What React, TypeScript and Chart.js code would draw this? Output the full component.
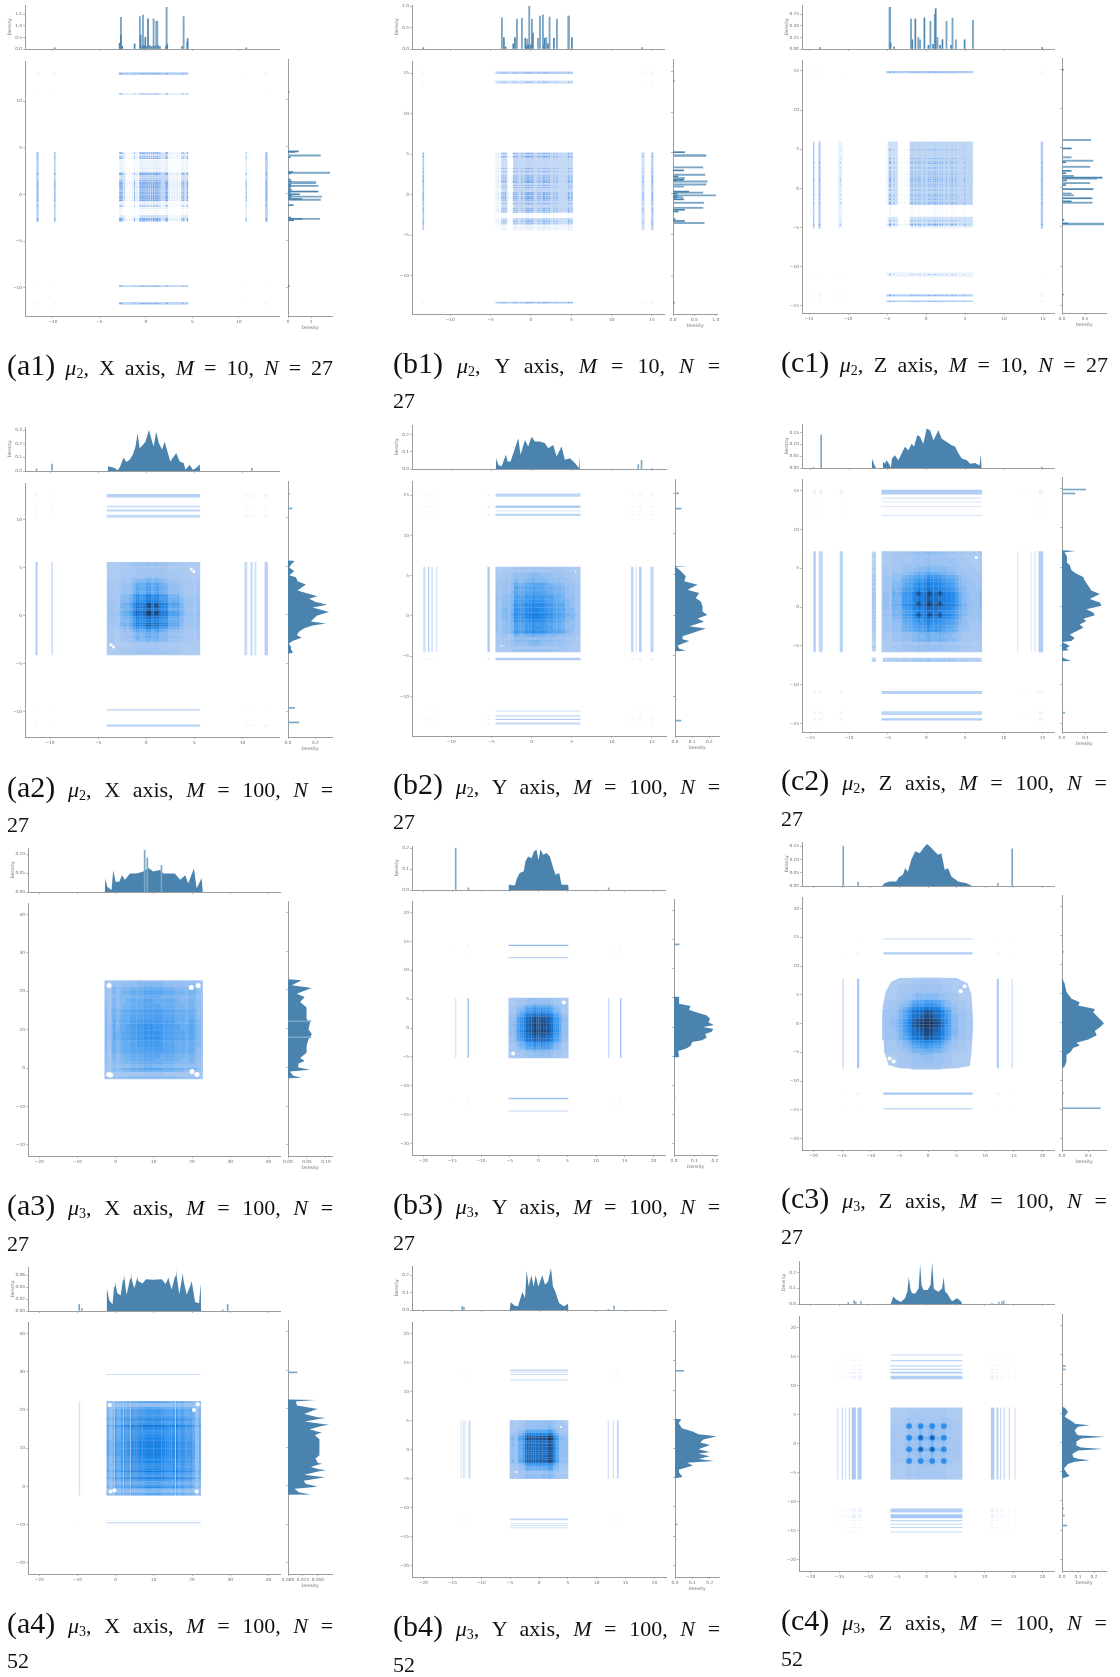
import React, { useEffect, useRef } from "react";
import { Chart, registerables } from "chart.js";
Chart.register(...registerables);

// ---------- marginal densities: [position, density] ----------
const a1Pale = [[-2.69,1.37],[-0.65,1.4],[-0.32,1.46],[0.82,1.3],[1.11,1.2],[1.22,1.2],[2.22,1.8],[4.05,1.4]];
const a1Spikes = [[-2.83,0.25],[-2.69,0.6],[-2.55,0.12],[-1.22,0.22],[-0.57,0.6],[-0.07,0.5],[0.22,1.3],[-0.4,0.12],[-0.2,0.15],[0.1,0.1],[0.4,0.15],[0.6,0.1],[0.8,0.13],[1,0.12],[1.3,0.15],[1.5,0.1],[2.29,0.2],[2.15,0.1],[3.87,0.1],[4.48,0.45],[4.44,0.3],[-9.82,0.05],[10.79,0.05]];
const b1Pale = [[-3.6,0.73],[-1.74,0.7],[-1.12,0.72],[-0.45,0.23],[-0.21,1],[0.12,0.7],[0.87,0.25],[1.12,0.77],[1.49,0.8],[1.9,0.27],[2.31,0.75],[3.22,0.7],[4.63,0.77],[4.71,0.77]];
const b1Spikes = [[-3.35,0.27],[-3.14,0.05],[-2.19,0.12],[-1.98,0.27],[-0.7,0.25],[-0.5,0.08],[-0.3,0.1],[0,0.1],[0.25,0.37],[1.6,0.08],[1.69,0.25],[2.1,0.12],[2.85,0.25],[5.08,0.27],[-13.35,0.03],[13.8,0.03]];
const c1Pale = [[-4.68,0.9],[-4.6,0.9],[-1.93,0.65],[-0.99,0.25],[-0.77,0.2],[0.56,0.6],[1.12,0.75],[1.46,0.25],[2.62,0.6],[3.39,0.67],[3.82,0.2],[6.01,0.62]];
const c1Spikes = [[-4.55,0.13],[-4.1,0.04],[-1.76,0.2],[-1.37,0.65],[-0.21,0.67],[0.3,0.08],[1.24,0.87],[0.9,0.1],[1.8,0.08],[2.1,0.2],[3.2,0.08],[4.94,0.2],[-13.56,0.03],[14.89,0.03]];

const a2Profile = [[-3.99,0],[-3.95,0.034],[-3.64,0.029],[-3.29,0.022],[-2.95,0.005],[-2.7,0.034],[-2.36,0.099],[-2.08,0.065],[-1.73,0.082],[-1.39,0.119],[-1.11,0.179],[-0.9,0.276],[-0.69,0.167],[-0.35,0.191],[-0.07,0.215],[0.28,0.3],[0.52,0.24],[0.76,0.179],[1.04,0.288],[1.32,0.203],[1.66,0.155],[1.91,0.215],[2.25,0.131],[2.5,0.07],[3.12,0.131],[3.47,0.07],[3.88,0.058],[4.09,0.01],[4.51,0.046],[4.85,0.01],[5.2,0.022],[5.55,0.05],[5.6,0]];
const a2Spikes = [[-11.4,0.015],[-9.8,0.05],[10.97,0.02]];
const a2Right = [[-11.1,0.08],[-9.6,0.05],[10.97,0.03],[12.5,0.01]];
const b2Profile = [[-4.45,0],[-4.4,0.063],[-4.15,0.025],[-3.74,0.015],[-3.2,0.083],[-2.99,0.044],[-2.62,0.044],[-2.2,0.102],[-1.66,0.179],[-1.37,0.083],[-0.83,0.169],[-0.42,0.131],[0,0.188],[0.42,0.16],[1.04,0.16],[1.66,0.15],[2.08,0.121],[2.7,0.14],[3.12,0.073],[3.74,0.131],[4.15,0.054],[4.78,0.063],[5.4,0.035],[5.9,0.006],[5.98,0.073],[6.02,0]];
const b2Spikes = [[13.3,0.025],[13.7,0.05],[15,0.004]];
const b2Right = [[-13,0.035],[13.1,0.035],[15,0.02]];
const c2Profile = [[-7.05,0],[-7,0.04],[-6.79,0.018],[-6.53,0],[-5.71,0],[-5.62,0.028],[-5.36,0.018],[-5.14,0.033],[-4.84,0.018],[-4.58,0],[-4.45,0.04],[-4.06,0.054],[-3.63,0.033],[-3.2,0.061],[-2.77,0.09],[-2.33,0.075],[-1.9,0.103],[-1.6,0.09],[-1.17,0.139],[-0.82,0.132],[-0.39,0.103],[0.04,0.167],[0.48,0.16],[0.91,0.117],[1.56,0.16],[1.99,0.124],[2.64,0.11],[3.29,0.096],[3.72,0.09],[4.15,0.061],[4.58,0.04],[5.23,0.033],[5.66,0.018],[6.31,0.021],[6.87,0.011],[7.05,0.057],[7.13,0]];
const c2Spikes = [[-13.6,0.14],[-14.6,0.003],[14.9,0.004]];
const c2Right = [[14.9,0.1],[14.4,0.055],[-13.6,0.012],[-10.9,0.003]];
const a3Profile = [[-2.8,0],[-2.71,0.036],[-2.18,0.014],[-1.05,0.005],[-0.61,0.058],[0,0.027],[0.96,0.027],[1.66,0.044],[2.45,0.032],[3.76,0.049],[5.5,0.049],[7.25,0.054],[8.56,0.063],[9.87,0.054],[11.6,0.058],[12.5,0.049],[14.2,0.049],[15.5,0.049],[16.9,0.032],[18.2,0.044],[19,0.023],[20.5,0.062],[21.2,0.01],[22.5,0.036],[22.8,0]];
const a3Spikes = [[7.6,0.11],[8.3,0.09],[12,0.07]];
const a3Right = [[11.9,0.06],[7.8,0.06]];
const b3Profile = [[-5.23,0],[-5.17,0.025],[-4.13,0.021],[-3.72,0.057],[-3.26,0.081],[-2.56,0.089],[-2.27,0.137],[-1.8,0.16],[-1.22,0.152],[-0.81,0.184],[-0.35,0.192],[0,0.143],[0.35,0.195],[0.81,0.168],[1.4,0.176],[1.98,0.16],[2.56,0.105],[2.97,0.073],[3.6,0.081],[4.01,0.025],[5.17,0.025],[5.23,0]];
const b3Spikes = [[-14.4,0.2],[-12.2,0.01],[12.2,0.01]];
const b3Right = [[14.2,0.025],[-12.2,0.005],[12.2,0.002]];
const c3Profile = [[-8,0],[-7.6,0.01],[-6.73,0.017],[-5.56,0.017],[-5.09,0.033],[-4.39,0.042],[-3.98,0.067],[-3.51,0.054],[-2.92,0.099],[-2.22,0.131],[-1.46,0.124],[-0.76,0.144],[-0.18,0.158],[0.29,0.15],[0.88,0.137],[1.75,0.118],[2.34,0.124],[2.92,0.061],[3.51,0.067],[4.09,0.036],[5.26,0.017],[6.73,0.01],[7.72,0]];
const c3Spikes = [[-14.8,0.15],[-12.2,0.015],[12.2,0.01],[14.7,0.14]];
const c3Right = [[-14.8,0.145],[12.2,0.005],[-12.2,0.005]];
const a4Profile = [[-2.36,0],[-2.27,0.038],[-1.66,0.018],[-0.79,0.011],[-0.4,0.04],[-0.17,0.049],[0.05,0.042],[0.44,0.03],[1.31,0.026],[1.95,0.052],[2.18,0.062],[2.4,0.05],[2.88,0.027],[3.8,0.054],[4.02,0.064],[4.25,0.052],[4.89,0.038],[5.45,0.05],[5.68,0.057],[5.9,0.05],[7.07,0.046],[7.95,0.053],[9.87,0.052],[12.05,0.053],[13.1,0.045],[13.6,0.052],[13.8,0.057],[14,0.05],[14.67,0.036],[15.55,0.058],[15.8,0.069],[16.05,0.055],[16.68,0.028],[17.35,0.054],[17.55,0.063],[17.8,0.05],[18.6,0.027],[19.7,0.045],[19.91,0.05],[20.1,0.042],[20.8,0.015],[21.83,0.013],[22.27,0.046],[22.36,0]];
const a4Spikes = [[-9.5,0.011],[-8.8,0.004],[28,0.002],[29.3,0.011]];
const a4Right = [[29.4,0.015]];
const b4Profile = [[-5.08,0],[-4.9,0.044],[-4.21,0.025],[-3.64,0.021],[-2.89,0.103],[-2.42,0.069],[-2.14,0.225],[-1.79,0.135],[-1.33,0.2],[-0.92,0.135],[-0.58,0.2],[-0.12,0.135],[0.58,0.2],[1.04,0.145],[1.56,0.164],[2.08,0.24],[2.42,0.135],[2.89,0.101],[3.46,0.04],[4.33,0.021],[5.02,0.036],[5.08,0]];
const b4Spikes = [[-13.3,0.02],[-13,0.015],[12,0.004],[13,0.022]];
const b4Right = [[13.3,0.05],[-13,0.012]];
const c4Profile = [[-6.18,0],[-5.72,0.048],[-5.26,0.031],[-4.45,0.012],[-3.7,0.037],[-3.3,0.08],[-3.06,0.173],[-2.8,0.1],[-2.54,0.07],[-1.97,0.065],[-1.35,0.1],[-1.1,0.256],[-0.85,0.12],[-0.52,0.09],[0.17,0.09],[0.7,0.12],[0.98,0.267],[1.25,0.1],[1.5,0.09],[2.08,0.079],[2.7,0.1],[2.95,0.173],[3.2,0.08],[3.53,0.069],[4.39,0.017],[5.26,0.037],[5.95,0.017],[6.13,0]];
const c4Spikes = [[-13.5,0.01],[-12.5,0.02],[-12.2,0.012],[-11.3,0.015],[11.3,0.004],[12.5,0.01],[13,0.012],[13.3,0.02]];
const c4Right = [[13.1,0.02],[12.5,0.02],[-11.3,0.01],[-12.5,0.015],[-14.2,0.03],[15,0.005]];

// ---------- joint density: [low, high, strength] ----------
const a1Cells = [[-2.85,-2.2,0.6],[-1.5,-0.8,0.25],[-0.7,2.4,0.85],[2.4,3.7,0.2],[3.8,4.5,0.6]];
const b1Cells = [[-4.4,-3.8,0.2],[-3.7,-2.9,0.7],[-2.2,5.2,0.85]];
const c1Cells = [[-5.1,-4.9,0.15],[-4.85,-3.6,0.65],[-2.1,6,0.88]];
const a1Strips = [[-11.8,-11.5,0.4],[-9.9,-9.7,0.4],[10.7,10.85,0.2],[12.8,13.1,0.45]];
const b1Strips = [[-13.45,-13.25,0.5],[13.7,14.1,0.3],[14.9,15.2,0.45]];
const c1Strips = [[-14.5,-14.3,0.45],[-13.8,-13.5,0.45],[-11.3,-10.7,0.12],[14.7,15,0.5]];

const a2Strips = [[-11.5,-11.3,0.5],[-9.85,-9.7,0.35],[10.2,10.5,0.35],[10.85,11.05,0.4],[11.25,11.45,0.3],[12.3,12.65,0.45]];
const a2Holes = [[4.68,4.86],[4.95,4.6],[-3.4,-3.25],[-3.65,-3]];
const a2DarkSpots = [0.28,1.04];
const b2Strips = [[-13.5,-13.2,0.3],[-12.9,-12.75,0.5],[-12.5,-12.3,0.3],[-11.9,-11.75,0.25],[-5.5,-5.2,0.5],[12.4,12.7,0.4],[13,13.1,0.35],[13.4,13.7,0.5],[14.8,15.2,0.4]];
const b2Holes = [[5.5,5.5],[-3.7,-3.7]];
const c2Strips = [[-14.6,-14.3,0.5],[-13.9,-13.4,0.4],[-11.2,-10.8,0.45],[11.7,11.9,0.2],[12.9,13,0.3],[13.5,13.6,0.3],[14,14.1,0.4],[14.5,15.1,0.5]];
const c2DarkSpots = [-1,0.45,1.75];
const c2Holes = [[6.44,6.4]];
const a3Holes = [[-1.8,-1.7],[21.6,21.5],[21.3,-1.7],[-1.7,21.5],[-1.3,-1.8],[20,-0.9],[19.8,21]];
const b3Strips = [[-14.45,-14.3,0.4],[-12.35,-12.1,0.6],[12.1,12.3,0.4],[14.2,14.4,0.7]];
const b3Holes = [[4.4,4.4],[-4.4,-4.4]];
const c3Outline = [[-6.5,7.2],[-5,7.9],[0,8],[5,7.9],[6.9,7],[7.6,5],[7.9,0],[7.6,-5],[7.3,-7.4],[5,-7.8],[0,-8],[-5,-7.8],[-6.9,-7.2],[-7.6,-5],[-8,0],[-7.9,3],[-7.4,5.5],[-6.5,7.2]];
const c3Strips = [[-14.95,-14.7,0.35],[-12.4,-12,0.55],[12,12.4,0.5],[14.6,14.8,0.35]];
const c3Holes = [[6.4,6.5],[-6.7,-6.1],[5.7,5.6],[-6,-6.6]];
const a4Strips = [[-9.6,-9.45,0.6],[-8.85,-8.75,0.2],[29.25,29.4,0.6]];
const a4Holes = [[-1.5,21.3],[21.5,21.5],[21.2,-1.3],[-1.3,-1.3],[20.5,20],[-0.3,-1]];
const b4Strips = [[-13.6,-13.4,0.25],[-13.2,-13.05,0.35],[-12.9,-12.75,0.35],[-12.2,-11.9,0.4],[11.9,12.1,0.35],[12.85,13,0.4],[13.2,13.3,0.4],[13.5,13.8,0.4]];
const b4Holes = [[3.8,3.9],[-3.9,-3.9]];
const c4Strips = [[-15.4,-15.2,0.3],[-14.6,-14.4,0.4],[-14,-13.85,0.4],[-13.4,-13.2,0.4],[-12.9,-12.2,0.55],[-11.9,-11.2,0.5],[11.1,11.7,0.5],[12.1,12.4,0.5],[12.7,12.9,0.4],[13.3,13.5,0.4],[14.2,14.4,0.4],[15.2,15.4,0.3]];
const c4BlueSpots = [-3,-1,1,3];
const c4DarkSpots = [-1,1];

// ---------- tick labels ----------
const ticks10 = [-10,-5,0,5,10];
const ticks15 = [-10,-5,0,5,10,15];
const ticksSym15 = [-15,-10,-5,0,5,10,15];
const ticks20 = [-20,-15,-10,-5,0,5,10,15,20];
const ticks40 = [-20,-10,0,10,20,30,40];

// ---------- layout of every panel (pixels) ----------
const panels: any[] = [
  { label:"a1", mu:"2", axis:"X", M:"10", N:"27", wrap:false, cap:[7,326,375,0], main:[25,279,59,316], top:[5,49], right:[288,332], lim:[-13,14.3], ticks:ticks10, dMax:1.9, topTicks:[0,0.5,1,1.5], topDec:1, rightTicks:[0,1], rightDec:0, pale:a1Pale, spikes:a1Spikes, cells:a1Cells, strips:a1Strips, sq:[-2.9,4.5] },
  { label:"b1", mu:"2", axis:"Y", M:"10", N:"27", wrap:true, cap:[393,327,373,408], main:[412,664,59,314], top:[5,49], right:[673,717], lim:[-14.75,16.5], ticks:ticks15, dMax:1.03, topTicks:[0,0.5,1], topDec:1, rightTicks:[0,0.5,1], rightDec:1, pale:b1Pale, spikes:b1Spikes, cells:b1Cells, strips:b1Strips, sq:[-4.4,5.2] },
  { label:"c1", mu:"2", axis:"Z", M:"10", N:"27", wrap:false, cap:[781,327,372,0], main:[802,1054,58,313], top:[5,49], right:[1062,1106], lim:[-15.9,16.4], ticks:ticksSym15, dMax:0.95, topTicks:[0,0.25,0.5,0.75], topDec:2, rightTicks:[0,0.5], rightDec:1, pale:c1Pale, spikes:c1Spikes, cells:c1Cells, strips:c1Strips, sq:[-5.1,6] },
  { label:"a2", mu:"2", axis:"X", M:"100", N:"27", wrap:true, cap:[7,326,797,832], main:[25,279,481,737], top:[427,471], right:[288,332], lim:[-12.6,13.8], ticks:ticks10, dMax:0.322, topTicks:[0,0.1,0.2,0.3], topDec:1, rightTicks:[0,0.2], rightDec:1, profile:a2Profile, peak:0.28, spikes:a2Spikes, rightSpikes:a2Right, sq:[-4.1,5.6], strips:a2Strips, holes:a2Holes, holeR:1.5, darkSpots:a2DarkSpots, dotR:2.4 },
  { label:"b2", mu:"2", axis:"Y", M:"100", N:"27", wrap:true, cap:[393,327,794,829], main:[412,666,479,736], top:[425,469], right:[675,719], lim:[-14.9,16.75], ticks:ticks15, dMax:0.256, topTicks:[0,0.1,0.2], topDec:1, rightTicks:[0,0.1,0.2], rightDec:1, profile:b2Profile, peak:0.23, spikes:b2Spikes, rightSpikes:b2Right, sq:[-4.5,6.1], strips:b2Strips, holes:b2Holes, holeR:0.8 },
  { label:"c2", mu:"2", axis:"Z", M:"100", N:"27", wrap:true, cap:[781,326,790,826], main:[802,1054,477,732], top:[424,468], right:[1062,1106], lim:[-16.08,16.5], ticks:ticksSym15, dMax:0.186, topTicks:[0,0.05,0.1,0.15], topDec:2, rightTicks:[0,0.1], rightDec:1, profile:c2Profile, peak:0.17, spikes:c2Spikes, rightSpikes:c2Right, sq:[-5.8,7.2], strips:c2Strips, holes:c2Holes, holeR:1.5, darkSpots:c2DarkSpots, dotR:2.6 },
  { label:"a3", mu:"3", axis:"X", M:"100", N:"27", wrap:true, cap:[7,326,1215,1251], main:[28,280,901,1156], top:[848,892], right:[288,332], lim:[-22.9,43], ticks:ticks40, dMax:0.116, topTicks:[0,0.05,0.1], topDec:2, rightTicks:[0,0.05,0.1], rightDec:2, profile:a3Profile, peak:0.09, spikes:a3Spikes, rightSpikes:a3Right, sq:[-2.9,22.8], holes:a3Holes, holeR:2.5 },
  { label:"b3", mu:"3", axis:"Y", M:"100", N:"27", wrap:true, cap:[393,327,1214,1250], main:[412,665,899,1155], top:[846,890], right:[674,717], lim:[-22,22], ticks:ticks20, dMax:0.21, topTicks:[0,0.1,0.2], topDec:1, rightTicks:[0,0.1,0.2], rightDec:1, profile:b3Profile, peak:0.19, spikes:b3Spikes, rightSpikes:b3Right, sq:[-5.2,5.2], strips:b3Strips, holes:b3Holes, holeR:2 },
  { label:"c3", mu:"3", axis:"Z", M:"100", N:"27", wrap:true, cap:[781,326,1208,1244], main:[802,1054,895,1150], top:[842,886], right:[1062,1106], lim:[-22,22], ticks:ticks20, dMax:0.166, topTicks:[0,0.05,0.1,0.15], topDec:2, rightTicks:[0,0.1], rightDec:1, profile:c3Profile, peak:0.15, spikes:c3Spikes, rightSpikes:c3Right, sq:[-7.8,7.8], outline:c3Outline, strips:c3Strips, holes:c3Holes, holeR:2 },
  { label:"a4", mu:"3", axis:"X", M:"100", N:"52", wrap:true, cap:[7,326,1633,1668], main:[28,280,1320,1574], top:[1267,1311], right:[288,332], lim:[-22.9,43], ticks:ticks40, dMax:0.0735, topTicks:[0,0.02,0.04,0.06], topDec:2, rightTicks:[0,0.025,0.05], rightDec:3, profile:a4Profile, peak:0.072, spikes:a4Spikes, rightSpikes:a4Right, sq:[-2.4,22.3], strips:a4Strips, holes:a4Holes, holeR:2 },
  { label:"b4", mu:"3", axis:"Y", M:"100", N:"52", wrap:true, cap:[393,327,1636,1672], main:[412,666,1320,1577], top:[1266,1310], right:[675,719], lim:[-22,22], ticks:ticks20, dMax:0.253, topTicks:[0,0.1,0.2], topDec:1, rightTicks:[0,0.1,0.2], rightDec:1, profile:b4Profile, peak:0.2, spikes:b4Spikes, rightSpikes:b4Right, sq:[-5,5], strips:b4Strips, holes:b4Holes, holeR:1 },
  { label:"c4", mu:"3", axis:"Z", M:"100", N:"52", wrap:true, cap:[781,326,1630,1666], main:[799,1054,1314,1571], top:[1261,1304], right:[1062,1106], lim:[-22,22], ticks:ticks20, dMax:0.275, topTicks:[0,0.1,0.2], topDec:1, rightTicks:[0,0.1,0.2], rightDec:1, profile:c4Profile, peak:0.29, spikes:c4Spikes, rightSpikes:c4Right, sq:[-6.2,6.2], strips:c4Strips, blueSpots:c4BlueSpots, darkSpots:c4DarkSpots, dotR:2.2 },
];

const BASE = "rgb(174,203,241)";
const AZURE = (a: number) => `rgba(20,130,235,${a})`;
const DARK = (a: number) => `rgba(22,48,86,${a})`;
const STRIP = (a: number) => `rgba(95,155,235,${a})`;
const HIST = "#4a83ad";
const PALE = "#7ba6c6";
const AXIS = "#9c9c9c";
const TEXT = "#6e6e6e";
const FAMILY = "DejaVu Sans";
const RAMP = [[0,174,203,241],[0.12,150,192,242],[0.3,85,165,240],[0.5,30,135,235],[0.7,28,110,195],[0.85,28,80,140],[1,30,55,90]];
const SHADES = 24;

function shade(t: number) {
  for (let i = 1; i < RAMP.length; i++) {
    if (t <= RAMP[i][0]) {
      const a = RAMP[i - 1], b = RAMP[i], f = (t - a[0]) / (b[0] - a[0]);
      return `rgb(${[1, 2, 3].map((k) => Math.round(a[k] + (b[k] - a[k]) * f)).join(",")})`;
    }
  }
  return "rgb(30,55,90)";
}

const fmt = (v: number, dec: number) => (v < 0 ? "\u2212" : "") + Math.abs(v).toFixed(dec);

function scale(position: string, min: number, max: number, vals: number[], size: number, labels: boolean, dec: number, title?: string) {
  const horizontal = position === "bottom";
  return {
    type: "linear", position, min, max, offset: false,
    grid: { display: true, offset: false, drawOnChartArea: false, drawTicks: true, tickLength: 2, tickWidth: 0.7, tickColor: AXIS },
    border: { display: true, color: AXIS, width: 1 },
    ticks: { display: labels, autoSkip: false, maxRotation: 0, minRotation: 0, padding: 1, color: TEXT, font: { size: 4.3, family: FAMILY }, callback: (v: number) => fmt(v, dec) },
    title: { display: !!title, text: title || "", padding: 0, color: TEXT, font: { size: 4.5, family: FAMILY } },
    afterBuildTicks: (s: any) => { s.ticks = vals.map((value) => ({ value })); },
    afterFit: (s: any) => {
      if (horizontal) s.height = size; else s.width = size;
      s.paddingLeft = s.paddingRight = s.paddingTop = s.paddingBottom = 0;
    },
  };
}

function polygon(points: any[], color: string) {
  return { type: "scatter", showLine: true, spanGaps: false, data: points, borderWidth: 0, borderColor: "rgba(0,0,0,0)", backgroundColor: color, pointRadius: 0, fill: "shape", tension: 0 };
}
const corners = (x0: number, x1: number, y0: number, y1: number) => [{ x: x0, y: y0 }, { x: x1, y: y0 }, { x: x1, y: y1 }, { x: x0, y: y1 }, { x: x0, y: y0 }];
const rect = (x0: number, x1: number, y0: number, y1: number, color: string) => polygon(corners(x0, x1, y0, y1), color);
const outlinePts = (list: number[][]) => list.map(([x, y]) => ({ x, y }));
function dots(points: number[][], r: number, color: string) {
  return { type: "scatter", showLine: false, data: points.map(([x, y]) => ({ x, y })), pointRadius: r, pointBorderWidth: 0, pointBackgroundColor: color, backgroundColor: color };
}
function thread(x0: number, y0: number, x1: number, y1: number) {
  return { type: "scatter", showLine: true, data: [{ x: x0, y: y0 }, { x: x1, y: y1 }], borderWidth: 0.6, borderDash: [1, 1.5], borderColor: "rgba(125,172,235,0.3)", pointRadius: 0, fill: false };
}
function cross(list: number[]) {
  const pts: number[][] = [];
  for (const a of list) for (const b of list) pts.push([a, b]);
  return pts;
}

// The joint picture follows the marginal that was read: one cell per pair of profile steps,
// grouped by shade so that each shade is a single dataset.
function profileCells(p: any) {
  const steps: number[][] = [];
  const prof = p.profile;
  for (let i = 0; i + 1 < prof.length; i++) {
    const d = (prof[i][1] + prof[i + 1][1]) / 2;
    if (d > 0.0005) steps.push([prof[i][0], prof[i + 1][0], d]);
  }
  const groups: any[][] = Array.from({ length: SHADES + 1 }, () => []);
  for (const [a0, a1, da] of steps) for (const [b0, b1, db] of steps) {
    const t = Math.min(1, (da * db) / (p.peak * p.peak));
    const k = Math.round(t * SHADES);
    if (k === 0 && p.outline) continue;
    groups[k].push(...corners(a0, a1, b0, b1), { x: NaN, y: NaN });
  }
  return groups.map((pts, k) => (pts.length ? polygon(pts, shade(k / SHADES)) : null)).filter(Boolean);
}

function mainDatasets(p: any) {
  const ds: any[] = [];
  const [c0, c1] = p.sq;
  if (p.cells) {
    for (const [a0, a1, wa] of p.cells) for (const [b0, b1, wb] of p.cells) ds.push(rect(a0, a1, b0, b1, `rgba(174,203,241,${wa * wb})`));
    const levels = [...p.pale, ...p.spikes].map((s: number[]) => s[0]).filter((v: number) => v >= c0 && v <= c1);
    for (const v of levels) { ds.push(thread(v, c0, v, c1)); ds.push(thread(c0, v, c1, v)); }
    const pts: number[][] = cross(levels);
    for (const [lo, hi] of p.strips) for (const b of levels) { pts.push([(lo + hi) / 2, b]); pts.push([b, (lo + hi) / 2]); }
    ds.push(dots(pts, 0.6, "rgba(95,155,235,0.65)"));
  } else {
    ds.push(p.outline ? polygon(outlinePts(p.outline), BASE) : rect(c0, c1, c0, c1, BASE));
    ds.push(...profileCells(p));
  }
  for (const [lo, hi, a] of p.strips || []) {
    ds.push(rect(lo, hi, c0, c1, STRIP(a)));
    ds.push(rect(c0, c1, lo, hi, STRIP(a)));
    for (const [lo2, hi2, a2] of p.strips) ds.push(rect(lo, hi, lo2, hi2, STRIP(a * a2 * 0.5)));
  }
  if (p.blueSpots) ds.push(dots(cross(p.blueSpots), p.dotR * 1.3, AZURE(0.75)));
  if (p.darkSpots) {
    ds.push(dots(cross(p.darkSpots), p.dotR, DARK(0.3)));
    ds.push(dots(cross(p.darkSpots), p.dotR * 0.55, DARK(0.35)));
  }
  if (p.holes) ds.push(dots(p.holes, p.holeR, "#ffffff"));
  return ds.reverse();
}

function marginalDatasets(p: any, horizontal: boolean) {
  const place = (pos: number, d: number) => (horizontal ? { x: d, y: pos } : { x: pos, y: d });
  const ds: any[] = [];
  const bars = (list: number[][], color: string, thickness: number) => ({
    type: "bar", data: list.map(([pos, d]) => place(pos, d)), backgroundColor: color, borderWidth: 0,
    barThickness: thickness, grouped: false, indexAxis: horizontal ? "y" : "x",
  });
  const spikes = horizontal && p.rightSpikes ? p.rightSpikes : p.spikes;
  if (spikes) ds.push(bars(spikes, p.profile ? PALE : HIST, 1));
  if (p.profile) {
    const pts = p.profile.map(([pos, d]: number[]) => place(pos, d));
    ds.push({ type: "scatter", showLine: true, data: [...pts, pts[0]], borderWidth: 0, borderColor: "rgba(0,0,0,0)", backgroundColor: HIST, pointRadius: 0, fill: "shape", tension: 0 });
  }
  if (p.pale) ds.push(bars(p.pale, PALE, 1.2));
  return ds;
}

function options(scales: any, padding: any) {
  return {
    responsive: false, animation: false, devicePixelRatio: 1, events: [],
    layout: { padding },
    plugins: { legend: { display: false }, tooltip: { enabled: false }, title: { display: false } },
    scales,
  };
}

function box(left: number, top: number, width: number, height: number) {
  return { position: "absolute", left, top, width, height, display: "block", filter: "blur(0.4px)" } as React.CSSProperties;
}

function Panel({ p }: { p: any }) {
  const mainRef = useRef<HTMLCanvasElement>(null);
  const topRef = useRef<HTMLCanvasElement>(null);
  const rightRef = useRef<HTMLCanvasElement>(null);
  const [L, R, T, B] = p.main;
  const [tT, tB] = p.top;
  const [rL, rR] = p.right;
  useEffect(() => {
    const charts = [
      new Chart(mainRef.current as any, {
        type: "scatter",
        data: { datasets: mainDatasets(p) },
        options: options({
          x: scale("bottom", p.lim[0], p.lim[1], p.ticks, 14, true, 0),
          y: scale("left", p.lim[0], p.lim[1], p.ticks, 24, true, 0),
        }, { top: 2, right: 4, left: 0, bottom: 0 }),
      } as any),
      new Chart(topRef.current as any, {
        type: "scatter",
        data: { datasets: marginalDatasets(p, false) },
        options: options({
          x: scale("bottom", p.lim[0], p.lim[1], p.ticks, 3, false, 0),
          y: scale("left", 0, p.dMax, p.topTicks, 18, true, p.topDec, "Density"),
        }, { top: 2, right: 2, left: 0, bottom: 0 }),
      } as any),
      new Chart(rightRef.current as any, {
        type: "scatter",
        data: { datasets: marginalDatasets(p, true) },
        options: options({
          x: scale("bottom", 0, p.dMax, p.rightTicks, 15, true, p.rightDec, "Density"),
          y: scale("left", p.lim[0], p.lim[1], p.ticks, 6, false, 0),
        }, { top: 2, right: 8, left: 0, bottom: 0 }),
      } as any),
    ];
    return () => charts.forEach((c) => c.destroy());
  }, [p]);
  const mainW = R - L + 28, mainH = B - T + 16;
  const topW = R - L + 20, topH = tB - tT + 5;
  const rightW = rR - rL + 14, rightH = B - T + 17;
  return (
    <>
      <canvas ref={mainRef} width={mainW} height={mainH} style={box(L - 24, T - 2, mainW, mainH)} />
      <canvas ref={topRef} width={topW} height={topH} style={box(L - 18, tT - 2, topW, topH)} />
      <canvas ref={rightRef} width={rightW} height={rightH} style={box(rL - 6, T - 2, rightW, rightH)} />
      <Caption p={p} />
    </>
  );
}

function Caption({ p }: { p: any }) {
  const [x, w, base1, base2] = p.cap;
  const line: React.CSSProperties = {
    position: "absolute", left: x, width: w, height: 30, lineHeight: "30px", whiteSpace: "normal",
    fontFamily: "'Liberation Serif', serif", fontSize: 22, color: "#111", textAlign: "justify", textAlignLast: "justify", filter: "blur(0.3px)",
  };
  return (
    <>
      <div style={{ ...line, top: base1 - 25 }}>
        <span style={{ fontSize: 30 }}>({p.label})</span>{" "}
        <span><i>μ</i><span style={{ fontSize: 14, position: "relative", top: 3 }}>{p.mu}</span>,</span>{" "}
        <span>{p.axis}</span> <span>axis,</span> <i>M</i> <span>=</span> <span>{p.M},</span> <i>N</i> <span>=</span>
        {p.wrap ? null : <span> {p.N}</span>}
      </div>
      {p.wrap ? <div style={{ ...line, top: base2 - 22, textAlign: "left", textAlignLast: "left" }}>{p.N}</div> : null}
    </>
  );
}

export default function App() {
  return (
    <div style={{ position: "absolute", left: 0, top: 0, width: 1120, height: 1677, background: "#fff", overflow: "hidden" }}>
      {panels.map((p) => <Panel key={p.label} p={p} />)}
    </div>
  );
}
